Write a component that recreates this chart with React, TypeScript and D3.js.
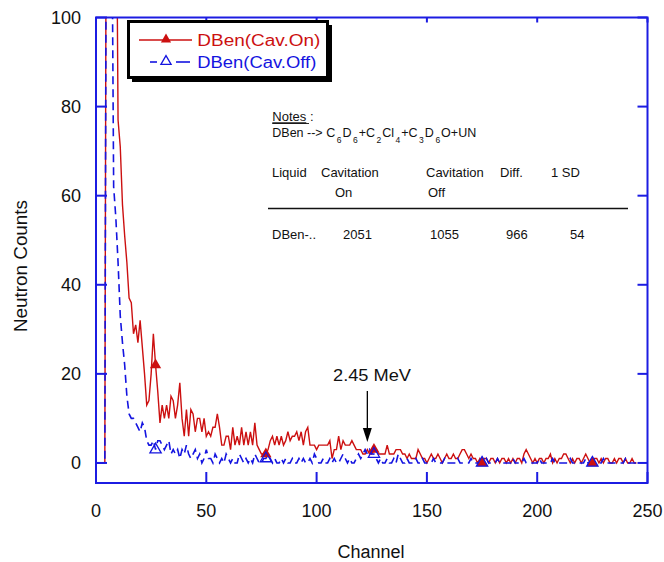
import React from "react";
import * as d3 from "d3";

// neutron counts per channel (channel = array index)
const cavOn = [
  0, 0, 0, 0, 0, 210, 240, 220, 180, 150,
  77, 71, 58, 51, 45, 37, 36, 29, 31, 27,
  32, 26, 20, 13, 14, 20, 29, 22, 16, 9,
  13, 10, 13, 10, 15, 14, 10, 13, 18, 10,
  6, 12, 6, 12, 11, 7, 10, 10, 7, 10,
  6, 7, 6, 8, 8, 11, 8, 4, 4, 6,
  6, 3, 8, 4, 6, 4, 8, 4, 7, 4,
  7, 4, 9, 4, 3, 2, 2, 2, 3, 5,
  6, 4, 6, 4, 6, 4, 5, 7, 5, 6,
  6, 7, 5, 7, 4, 7, 8, 4, 4, 4,
  3, 4, 4, 4, 4, 4, 5, 1, 3, 3,
  6, 3, 5, 4, 4, 4, 5, 4, 3, 3,
  3, 2, 2, 3, 2, 2, 3, 3, 2, 2,
  2, 2, 4, 2, 2, 2, 3, 3, 3, 2,
  2, 1, 2, 1, 1, 1, 3, 2, 1, 1,
  0, 1, 2, 1, 1, 2, 1, 0, 1, 2,
  1, 1, 2, 1, 1, 2, 3, 3, 2, 1,
  2, 1, 1, 0, 1, 0, 1, 1, 0, 1,
  1, 0, 1, 0, 1, 1, 0, 1, 0, 1,
  0, 1, 1, 0, 2, 3, 2, 1, 0, 1,
  0, 1, 1, 0, 1, 1, 2, 0, 1, 0,
  1, 1, 2, 2, 1, 0, 1, 0, 1, 1,
  0, 1, 2, 1, 0, 0, 1, 1, 0, 1,
  0, 1, 1, 0, 0, 1, 0, 1, 1, 0,
  1, 0, 0, 1, 0, 0,
];

const cavOff = [
  0, 0, 0, 0, 0, 200, 180, 140, 62, 55,
  45, 33, 27, 22, 15, 11, 10, 10, 9, 8,
  7, 9, 8, 5, 4, 4, 5, 3, 5, 5,
  4, 3, 4, 5, 2, 3, 2, 3, 1, 3,
  2, 4, 2, 1, 2, 3, 1, 2, 0, 1,
  3, 1, 1, 0, 2, 1, 0, 1, 0, 2,
  1, 0, 1, 0, 0, 2, 1, 0, 1, 0,
  1, 0, 2, 1, 0, 0, 1, 1, 2, 1,
  0, 1, 0, 0, 1, 0, 1, 0, 0, 1,
  0, 0, 1, 0, 1, 0, 0, 1, 0, 2,
  1, 0, 0, 1, 0, 0, 1, 0, 1, 0,
  0, 1, 2, 1, 0, 1, 0, 0, 1, 2,
  1, 2, 3, 2, 3, 2, 2, 1, 0, 1,
  0, 0, 1, 0, 0, 1, 0, 2, 1, 0,
  0, 1, 0, 0, 0, 1, 0, 0, 1, 0,
  0, 0, 0, 1, 0, 0, 0, 0, 1, 0,
  0, 0, 0, 0, 1, 0, 0, 0, 0, 0,
  1, 0, 0, 0, 0, 0, 0, 1, 0, 0,
  0, 0, 1, 0, 0, 0, 0, 0, 0, 1,
  0, 0, 0, 0, 1, 0, 0, 0, 0, 0,
  0, 1, 0, 0, 0, 0, 0, 1, 0, 0,
  0, 0, 0, 0, 0, 1, 0, 0, 0, 0,
  0, 0, 1, 0, 0, 0, 0, 0, 0, 0,
  1, 0, 0, 0, 0, 0, 0, 0, 0, 0,
  1, 0, 0, 0, 0, 0,
];

// channels that carry a triangle marker
const markerChannels = [27, 77, 126, 175, 225];

const xTicks = [0, 50, 100, 150, 200, 250];
const yTicks = [0, 20, 40, 60, 80, 100];

const tableHead = ["Liquid", "Cavitation", "Cavitation", "Diff.", "1 SD"];
const tableHead2 = ["On", "Off"];
const tableRow = ["DBen-..", "2051", "1055", "966", "54"];

// formula pieces: [main text, subscript]
const formula: [string, string][] = [
  ["DBen --> C", "6"],
  ["D", "6"],
  ["+C", "2"],
  ["Cl", "4"],
  ["+C", "3"],
  ["D", "6"],
  ["O+UN", ""],
];

const RED = "#cc1010";
const BLUE = "#1414e0";
const AXIS = "#1c1ce2";
const FONT = "'Liberation Sans', Arial, sans-serif";

export default function App() {
  const x = d3.scaleLinear().domain([0, 250]).range([96, 647.5]);
  const y = d3.scaleLinear().domain([-4.5, 100]).range([483, 17.5]);
  const [x0, x1] = x.range();
  const [y0, y1] = y.range();

  const line = d3
    .line<number>()
    .x((d, i) => x(i))
    .y((d) => y(d));

  const tri = d3.symbol(d3.symbolTriangle, 55)();
  const triSmall = d3.symbol(d3.symbolTriangle, 45)();

  const headX = [272, 321, 426, 500, 551];
  const head2X = [335, 428];
  const rowX = [272, 343, 430, 506, 570];

  return (
    <svg
      width={664}
      height={562}
      style={{ position: "absolute", left: 0, top: 0, background: "#fff" }}
      fontFamily={FONT}
    >
      <defs>
        <clipPath id="plot">
          <rect x={x0} y={y1} width={x1 - x0} height={y0 - y1} />
        </clipPath>
      </defs>

      {/* series */}
      <g clipPath="url(#plot)">
        <path d={line(cavOn) || ""} fill="none" stroke={RED} strokeWidth={1.4} />
        <path
          d={line(cavOff) || ""}
          fill="none"
          stroke={BLUE}
          strokeWidth={1.6}
          strokeDasharray="8,5"
        />
        {markerChannels.map((c) => (
          <path key={"r" + c} d={tri || ""} transform={`translate(${x(c)},${y(cavOn[c])})`} fill={RED} />
        ))}
        {markerChannels.map((c) => (
          <path
            key={"b" + c}
            d={tri || ""}
            transform={`translate(${x(c)},${y(cavOff[c])})`}
            fill="none"
            stroke={BLUE}
            strokeWidth={1.3}
          />
        ))}
      </g>

      {/* frame and ticks */}
      <rect x={x0} y={y1} width={x1 - x0} height={y0 - y1} fill="none" stroke={AXIS} strokeWidth={2} />
      {xTicks.map((t) => (
        <g key={"x" + t}>
          <line x1={x(t)} x2={x(t)} y1={y0} y2={y0 - 11} stroke={AXIS} strokeWidth={2} />
          <line x1={x(t)} x2={x(t)} y1={y1} y2={y1 + 5} stroke={AXIS} strokeWidth={2} />
          <text x={x(t)} y={517} textAnchor="middle" fontSize={18} fill="#111">
            {t}
          </text>
        </g>
      ))}
      {yTicks.map((t) => (
        <g key={"y" + t}>
          <line x1={x0} x2={x0 + 11} y1={y(t)} y2={y(t)} stroke={AXIS} strokeWidth={2} />
          <line x1={x1} x2={x1 - 10} y1={y(t)} y2={y(t)} stroke={AXIS} strokeWidth={2} />
          <text x={81} y={y(t) + 6.4} textAnchor="end" fontSize={18} fill="#111">
            {t}
          </text>
        </g>
      ))}

      <text x={371} y={557.5} textAnchor="middle" fontSize={18} fill="#111">
        Channel
      </text>
      <text
        transform="translate(26.5,266) rotate(-90)"
        textAnchor="middle"
        fontSize={19}
        textLength={132}
        lengthAdjust="spacingAndGlyphs"
        fill="#111"
      >
        Neutron Counts
      </text>

      {/* legend */}
      <rect x={132} y={25} width={200} height={57} fill="#000" />
      <rect x={128.5} y={21.5} width={199} height={56} fill="#fff" stroke="#000" strokeWidth={3} />
      <line x1={139} x2={192} y1={40} y2={40} stroke={RED} strokeWidth={1.5} />
      <path d={triSmall || ""} transform="translate(166,39.5)" fill={RED} />
      <text x={197.3} y={45.7} fontSize={16} fill={RED} textLength={123} lengthAdjust="spacingAndGlyphs">
        DBen(Cav.On)
      </text>
      <line x1={150} x2={157} y1={62} y2={62} stroke={BLUE} strokeWidth={1.6} />
      <line x1={176} x2={190} y1={62} y2={62} stroke={BLUE} strokeWidth={1.6} />
      <path d={triSmall || ""} transform="translate(166,61.5)" fill="none" stroke={BLUE} strokeWidth={1.3} />
      <text x={197.3} y={67.7} fontSize={16} fill={BLUE} textLength={119} lengthAdjust="spacingAndGlyphs">
        DBen(Cav.Off)
      </text>

      {/* notes */}
      <g fontSize={13} fill="#111">
        <text x={272.3} y={121.3}>
          <tspan textDecoration="underline">Notes</tspan>
          <tspan> :</tspan>
        </text>
        <line x1={272.3} x2={309} y1={123.5} y2={123.5} stroke="#111" strokeWidth={0.9} />

        <text x={272.3} y={137.3} fontSize={12.5}>
          {formula.map(([main, sub], i) => (
            <React.Fragment key={"f" + i}>
              <tspan dy={i === 0 ? 0 : -6} dx={i === 0 ? 0 : 1}>
                {main}
              </tspan>
              {sub && (
                <tspan dy={6} dx={1.5} fontSize={8.5}>
                  {sub}
                </tspan>
              )}
            </React.Fragment>
          ))}
        </text>

        {tableHead.map((h, i) => (
          <text key={"h" + i} x={headX[i]} y={177.3}>
            {h}
          </text>
        ))}
        {tableHead2.map((h, i) => (
          <text key={"h2" + i} x={head2X[i]} y={196.7}>
            {h}
          </text>
        ))}
        <line x1={268} x2={628} y1={208.5} y2={208.5} stroke="#111" strokeWidth={1.5} />
        {tableRow.map((v, i) => (
          <text key={"v" + i} x={rowX[i]} y={239.3}>
            {v}
          </text>
        ))}
      </g>

      {/* 2.45 MeV annotation */}
      <text x={333} y={380.7} fontSize={16} fill="#111" textLength={78} lengthAdjust="spacingAndGlyphs">
        2.45 MeV
      </text>
      <line x1={x(123)} x2={x(123)} y1={391} y2={430} stroke="#000" strokeWidth={1.3} />
      <path
        d={`M${x(123) - 4.5},428 L${x(123) + 4.5},428 L${x(123)},442 Z`}
        fill="#000"
      />
    </svg>
  );
}
